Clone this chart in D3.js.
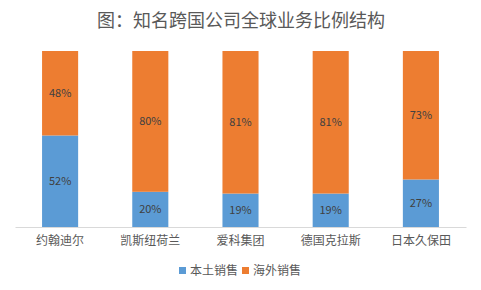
<!DOCTYPE html>
<html><head><meta charset="utf-8">
<script src="https://cdn.jsdelivr.net/npm/d3@7/dist/d3.min.js"></script>
<style>body{margin:0;background:#fff}svg{display:block}</style>
</head><body><div id="chart"></div>
<script>
const title = "图：知名跨国公司全球业务比例结构";
const categories = ["约翰迪尔","凯斯纽荷兰","爱科集团","德国克拉斯","日本久保田"];
const seriesNames = ["本土销售","海外销售"];
const domestic = [52,20,19,19,27];
const overseas = [48,80,81,81,73];
const colors = ["#5B9BD5","#ED7D31"];

const W=481,H=290;
const font = "'Noto Sans CJK SC','Noto Sans',sans-serif";
const svg = d3.select("#chart").append("svg").attr("width",W).attr("height",H);
const m={l:15,r:15,t:51,b:63};
const x = d3.scaleBand().domain(categories).range([m.l,W-m.r]).paddingInner(0.6).paddingOuter(0.3);
const y = d3.scaleLinear().domain([0,100]).range([H-m.b,m.t]);

svg.append("text").attr("x",W/2+0.5).attr("y",27).attr("text-anchor","middle")
 .attr("font-family",font).attr("font-size",18).attr("fill","#595959").text(title);

const data = categories.map((c,i)=>({cat:c, domestic:domestic[i], overseas:overseas[i]}));
const stack = d3.stack().keys(["domestic","overseas"])(data);

stack.forEach((s,si)=>{
  const g = svg.append("g");
  g.selectAll("rect").data(s).join("rect")
   .attr("x",d=>x(d.data.cat)).attr("width",x.bandwidth())
   .attr("y",d=>y(d[1])).attr("height",d=>y(d[0])-y(d[1]))
   .attr("fill",colors[si]);
  g.selectAll("text").data(s).join("text")
   .attr("x",d=>x(d.data.cat)+x.bandwidth()/2)
   .attr("y",d=>(y(d[0])+y(d[1]))/2).attr("dy","0.35em")
   .attr("text-anchor","middle").attr("font-family",font).attr("font-size",11)
   .attr("fill","#404040").text(d=>(d[1]-d[0])+"%");
});

const ax = svg.append("g").attr("transform",`translate(0,${H-m.b})`)
 .call(d3.axisBottom(x).tickSize(0).tickPadding(9));
ax.select(".domain").attr("stroke","#D9D9D9").attr("stroke-width",1);
ax.selectAll("text").attr("font-family",font).attr("font-size",12).attr("fill","#595959");

const lg = svg.append("g");
const lx=[179,242];
seriesNames.forEach((n,i)=>{
  lg.append("rect").attr("x",lx[i]).attr("y",267).attr("width",7).attr("height",7).attr("fill",colors[i]);
  lg.append("text").attr("x",lx[i]+11).attr("y",270.5).attr("dy","0.35em")
   .attr("font-family",font).attr("font-size",12).attr("fill","#595959").text(n);
});
</script></body></html>
